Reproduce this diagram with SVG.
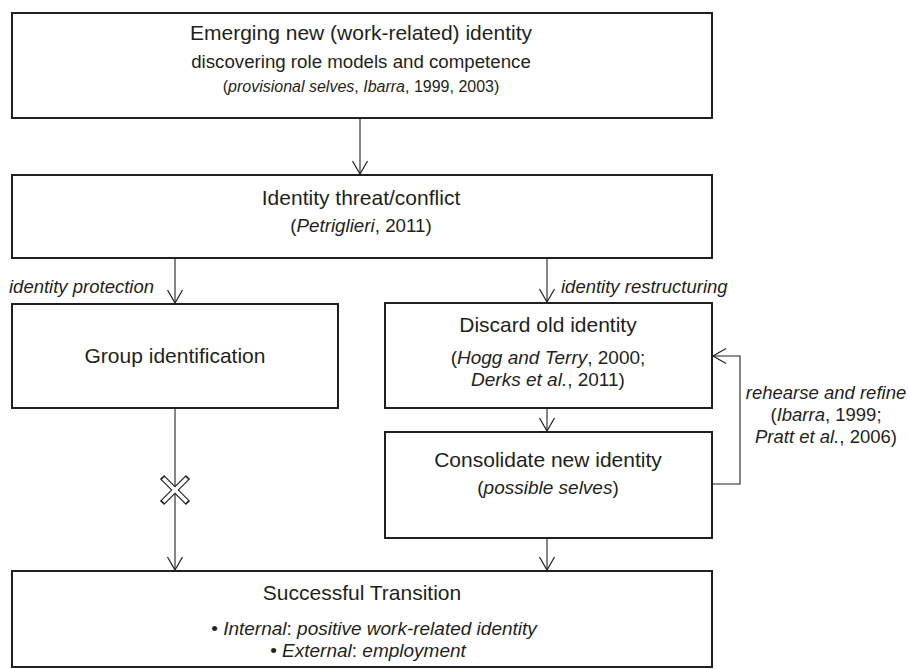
<svg xmlns="http://www.w3.org/2000/svg" width="908" height="669" viewBox="0 0 908 669">
<defs>
<marker id="ah" markerWidth="18" markerHeight="18" refX="14" refY="9" orient="auto" markerUnits="userSpaceOnUse">
<path d="M1,1.5 L14,9 L1,16.5" fill="none" stroke="#231f20" stroke-width="1.2"/>
</marker>
</defs>
<style>
.box{fill:#fff;stroke:#231f20;stroke-width:2}
.t{font-family:"Liberation Sans",Arial,Helvetica,sans-serif;fill:#231f20;text-anchor:middle}
.s{text-anchor:start}
.i{font-style:italic}
.c{fill:none;stroke:#231f20;stroke-width:1.1}
</style>
<rect width="908" height="669" fill="#fff"/>
<g id="connectors">
<line class="c" x1="360" y1="118" x2="360" y2="174" marker-end="url(#ah)"/>
<line class="c" x1="175" y1="258" x2="175" y2="303" marker-end="url(#ah)"/>
<line class="c" x1="547" y1="258" x2="547" y2="302" marker-end="url(#ah)"/>
<line class="c" x1="547" y1="408" x2="547" y2="431" marker-end="url(#ah)"/>
<line class="c" x1="175" y1="408" x2="175" y2="570" marker-end="url(#ah)"/>
<line class="c" x1="547" y1="538" x2="547" y2="570" marker-end="url(#ah)"/>
<polyline class="c" points="713,484 740,484 740,356 713,356" marker-end="url(#ah)"/>
<g id="block-mark">
<line x1="162" y1="477" x2="188" y2="503" stroke="#231f20" stroke-width="6"/>
<line x1="188" y1="477" x2="162" y2="503" stroke="#231f20" stroke-width="6"/>
<line x1="163.2" y1="478.2" x2="186.8" y2="501.8" stroke="#fff" stroke-width="3.6"/>
<line x1="186.8" y1="478.2" x2="163.2" y2="501.8" stroke="#fff" stroke-width="3.6"/>
</g>
<text class="t i s" x="9" y="293" font-size="18.5">identity protection</text>
<text class="t i s" x="561" y="293" font-size="18.5">identity restructuring</text>
<text class="t" x="826" y="399" font-size="18.5"><tspan class="i">rehearse and refine</tspan></text>
<text class="t" x="826" y="421" font-size="18.5">(<tspan class="i">Ibarra</tspan>, 1999;</text>
<text class="t" x="826" y="443" font-size="18.5"><tspan class="i">Pratt et al.</tspan>, 2006)</text>
</g>
<g id="emerging">
<rect class="box" x="12" y="13" width="700" height="105"/>
<text class="t" x="361" y="40" font-size="21">Emerging new (work-related) identity</text>
<text class="t" x="361" y="68" font-size="18.7">discovering role models and competence</text>
<text class="t" x="361" y="92" font-size="16">(<tspan class="i">provisional selves</tspan>, <tspan class="i">Ibarra</tspan>, 1999, 2003)</text>
</g>
<g id="threat">
<rect class="box" x="12" y="175" width="700" height="83"/>
<text class="t" x="361" y="205" font-size="21">Identity threat/conflict</text>
<text class="t" x="361" y="232" font-size="18.8">(<tspan class="i">Petriglieri</tspan>, 2011)</text>
</g>
<g id="group">
<rect class="box" x="12" y="304" width="326" height="104"/>
<text class="t" x="175" y="363" font-size="21">Group identification</text>
</g>
<g id="discard">
<rect class="box" x="385" y="303" width="327" height="105"/>
<text class="t" x="548" y="332" font-size="21">Discard old identity</text>
<text class="t" x="548" y="364" font-size="19">(<tspan class="i">Hogg and Terry</tspan>, 2000;</text>
<text class="t" x="548" y="386" font-size="19"><tspan class="i">Derks et al.</tspan>, 2011)</text>
</g>
<g id="consolidate">
<rect class="box" x="385" y="432" width="327" height="106"/>
<text class="t" x="548" y="467" font-size="21">Consolidate new identity</text>
<text class="t" x="548" y="494" font-size="19">(<tspan class="i">possible selves</tspan>)</text>
</g>
<g id="success">
<rect class="box" x="12" y="571" width="700" height="96"/>
<text class="t" x="362" y="600" font-size="21">Successful Transition</text>
<text class="t" x="374" y="635" font-size="19">• <tspan class="i">Internal</tspan>: <tspan class="i">positive work-related identity</tspan></text>
<text class="t" x="368" y="657" font-size="19">• <tspan class="i">External</tspan>: <tspan class="i">employment</tspan></text>
</g>
</svg>
